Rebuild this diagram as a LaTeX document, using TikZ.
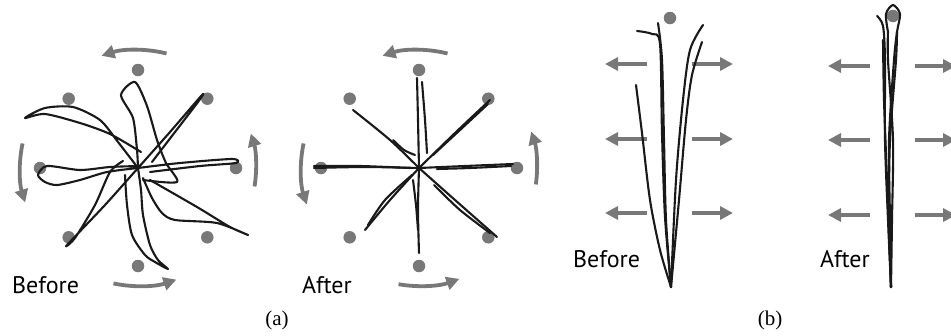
\documentclass[tikz,border=0pt]{standalone}
\usepackage{fontspec}
\setmainfont{Liberation Serif}
\newfontfamily\legende{PT Sans}
\usetikzlibrary{arrows.meta,calc}
\definecolor{grisfig}{RGB}{120,120,120}
\definecolor{noirfig}{RGB}{25,25,25}
\tikzset{
  pointgris/.style={circle,fill=grisfig,inner sep=0pt,minimum size=12.5pt},
  brin/.style={draw=noirfig,line width=2.1pt,line cap=round,line join=round},
  fleche/.style={draw=grisfig,line width=3.8pt,-{Triangle[length=13pt,width=13pt]}},
  etiquette/.style={font=\legende\fontsize{24}{24}\selectfont,inner sep=0pt,anchor=base west},
  sous/.style={font=\fontsize{21}{21}\selectfont,inner sep=0pt},
}
\begin{document}
\begin{tikzpicture}[x=1pt,y=-1pt]
		
		% Cadre de l'image
		\clip (0,0) rectangle (951,335);
		\fill[white] (0,0) rectangle (951,335);
		
		% (a) Avant : points, fleches de rotation
		\coordinate (cAv) at (138,168);
		\foreach \a in {0,45,...,315}
		\node[pointgris] (pAv\a) at ($(cAv)+(\a:98)$) {};
		\draw[fleche] ($(cAv)+(-76:118)$) arc[start angle=-76,end angle=-108,radius=118];
		\draw[fleche] ($(cAv)+(102:118)$) arc[start angle=102,end angle=71,radius=118];
		\draw[fleche] ($(cAv)+(192:118)$) arc[start angle=192,end angle=163,radius=118];
		\draw[fleche] ($(cAv)+(9:118)$) arc[start angle=9,end angle=-17,radius=118];
		
		% (a) Avant : brins
		\draw[brin] plot[smooth,tension=0.45] coordinates {(138,168) (137,150) (133,118) (121,95) (135,82) (147,106) (157,140) (166,163) (177,182) (143,180)};
		\draw[brin] plot[smooth,tension=0.45] coordinates {(141,152) (110,134) (80,123) (45,114) (25,118) (45,108) (73,107) (100,120) (118,142) (138,168)};
		\draw[brin] plot[smooth,tension=0.45] coordinates {(138,168) (170,132) (202,95) (198,102) (175,132) (152,162)};
		\draw[brin] plot[smooth,tension=0.45] coordinates {(138,168) (105,205) (67,245) (75,238) (95,205) (110,172) (123,161)};
		\draw[brin] plot[smooth,tension=0.45] coordinates {(138,168) (180,163) (232,159) (236,163) (200,166) (150,172)};
		\draw[brin] plot[smooth,tension=0.45] coordinates {(143,178) (152,198) (162,213) (175,220) (217,223) (248,235) (230,227) (197,207) (150,180)};
		\draw[brin] plot[smooth,tension=0.45] coordinates {(138,168) (141,190) (143,215) (150,245) (158,260) (168,269) (155,262) (145,255) (132,235) (127,205) (125,175)};
		\draw[brin] plot[smooth,tension=0.45] coordinates {(140,166) (110,167) (80,170) (47,166) (38,175) (45,182) (57,185) (80,180) (107,172) (138,168)};
		
		% (a) Apres : points, fleches de rotation
		\coordinate (cAp) at (419,168);
		\foreach \a in {0,45,...,315}
		\node[pointgris] (pAp\a) at ($(cAp)+(\a:98)$) {};
		\draw[fleche] ($(cAp)+(-76:118)$) arc[start angle=-76,end angle=-108,radius=118];
		\draw[fleche] ($(cAp)+(100:118)$) arc[start angle=100,end angle=70,radius=118];
		\draw[fleche] ($(cAp)+(192:118)$) arc[start angle=192,end angle=162,radius=118];
		\draw[fleche] ($(cAp)+(8:118)$) arc[start angle=8,end angle=-18,radius=118];
		
		% (a) Apres : brins
		\draw[brin] plot[smooth] coordinates {(419,168) (418,120) (417,78)};
		\draw[brin] plot[smooth] coordinates {(422,82) (425,120) (427,153)};
		\draw[brin] plot[smooth] coordinates {(419,168) (455,133) (490,100)};
		\draw[brin] plot[smooth] coordinates {(488,104) (460,130) (433,155)};
		\draw[brin] plot[smooth] coordinates {(419,168) (465,166) (513,164)};
		\draw[brin] plot[smooth] coordinates {(511,166) (470,168) (437,169)};
		\draw[brin] plot[smooth] coordinates {(419,168) (455,200) (497,237)};
		\draw[brin] plot[smooth] coordinates {(434,185) (460,210) (490,233)};
		\draw[brin] plot[smooth] coordinates {(419,168) (418,210) (419,253)};
		\draw[brin] plot[smooth] coordinates {(413,180) (416,205) (418,230)};
		\draw[brin] plot[smooth] coordinates {(419,168) (390,200) (365,230)};
		\draw[brin] plot[smooth] coordinates {(412,175) (385,200) (368,225)};
		\draw[brin] plot[smooth] coordinates {(419,168) (365,167) (314,168)};
		\draw[brin] plot[smooth] coordinates {(314,166) (360,166) (410,168)};
		\draw[brin] plot[smooth] coordinates {(353,110) (390,140) (419,168)};
		\draw[brin] plot[smooth] coordinates {(393,140) (404,150) (415,155)};
		
		% Labels (a)
		\node[etiquette] (avantA) at (12,293) {Before};
		\node[etiquette] (apresA) at (302,293) {After};
		\node[sous] (legA) at (277,320) {(a)};
		
		% (b) Avant : point, fleches d'ecartement
		\node[pointgris] (pBav) at (670,18) {};
		\foreach \y in {64,139,213} {
		\draw[fleche] (647,\y) -- (605,\y);
		\draw[fleche] (692,\y) -- (733,\y);
		}
		
		% (b) Avant : brins
		\draw[brin] plot[smooth] coordinates {(637,31) (652,34) (660,44) (662,133) (665,217) (671,287)};
		\draw[brin] plot[smooth] coordinates {(658,23) (662,60) (664,140) (666,220) (671,287)};
		\draw[brin] plot[smooth] coordinates {(703,25) (690,50) (683,100) (676,180) (671,287)};
		\draw[brin] plot[smooth] coordinates {(702,42) (692,75) (686,120) (679,200) (671,287)};
		\draw[brin] plot[smooth] coordinates {(636,85) (642,133) (650,200) (660,250) (671,287)};
		
		% (b) Apres : point, fleches
		\node[pointgris] (pBap) at (893,16) {};
		\foreach \y in {66,140,215} {
		\draw[fleche] (870,\y) -- (828,\y);
		\draw[fleche] (915,\y) -- (956,\y);
		}
		
		% (b) Apres : faisceau
		\draw[brin] plot[smooth] coordinates {(877,16) (883,26) (885,60) (885,140) (888,220) (891,287)};
		\draw[brin] plot[smooth] coordinates {(888,32) (886,14) (893,5) (900,14) (897,32) (894,60) (889,140) (890,220) (891,287)};
		\draw[brin] plot[smooth] coordinates {(888,32) (888,60) (893,140) (892,220) (891,287)};
		\draw[brin] plot[smooth] coordinates {(897,32) (896,60) (890,140) (889,220) (891,287)};
		\draw[brin] plot[smooth] coordinates {(883,40) (884,100) (887,180) (891,287)};
		
		% Labels (b)
		\node[etiquette] (avantB) at (573,267) {Before};
		\node[etiquette] (apresB) at (820,267) {After};
		\node[sous] (legB) at (770,320) {(b)};
		
	\end{tikzpicture}
\end{document}
